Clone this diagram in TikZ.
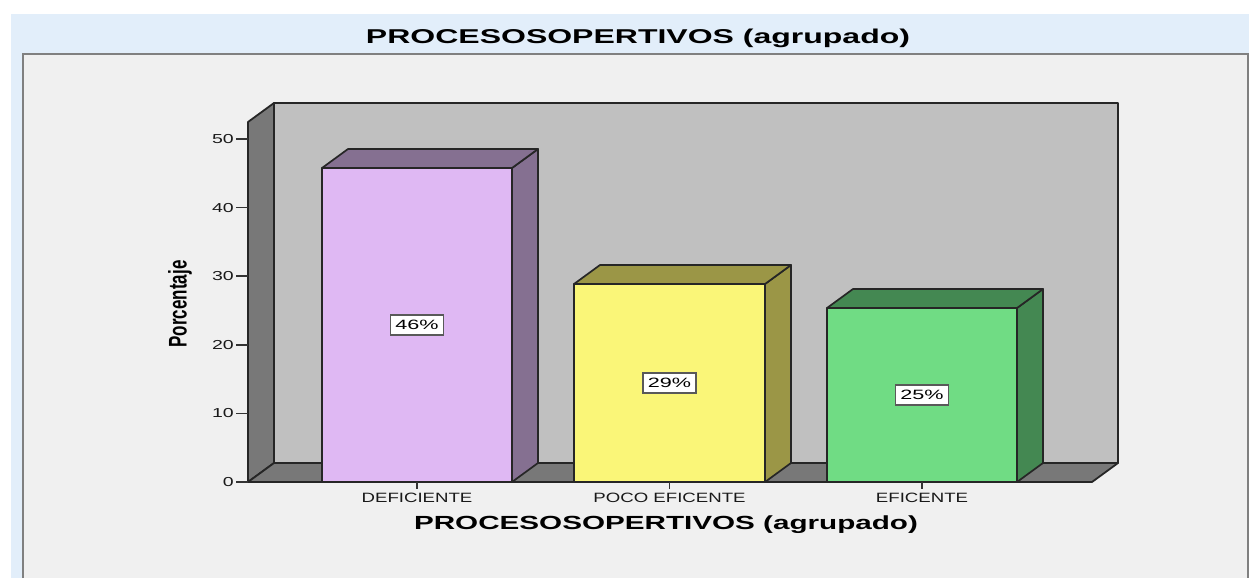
\documentclass[tikz,border=0pt]{standalone}
\usepackage{fontspec}
\setmainfont{Liberation Sans}
\usepackage{tikz}
\definecolor{headblue}{HTML}{E2EEFA}
\definecolor{panelgray}{HTML}{F0F0F0}
\definecolor{backwall}{HTML}{C0C0C0}
\definecolor{sidewall}{HTML}{787878}
\definecolor{lilac}{HTML}{DFB8F3}
\definecolor{lilacdark}{HTML}{857091}
\definecolor{lemon}{HTML}{FAF678}
\definecolor{lemondark}{HTML}{9B9646}
\definecolor{mint}{HTML}{70DC84}
\definecolor{mintdark}{HTML}{448852}

\begin{document}
\begin{tikzpicture}[x=1pt,y=-1pt,
    wall/.style={draw=black!85,line width=1.8pt,line join=round},
    barline/.style={draw=black!85,line width=1.7pt,line join=round},
    tick/.style={draw=black!80,line width=1.5pt},
    pct/.style={draw=black!65,fill=white,line width=1.3pt,minimum width=53,minimum height=20,inner sep=1pt,
                font=\fontsize{13.5}{15}\selectfont},
    cat/.style={font=\fontsize{13.5}{16}\selectfont,text=black!90},
    ytick/.style={anchor=east,inner sep=1pt,font=\fontsize{13}{15}\selectfont,text=black!90}]
    \useasboundingbox (0,0) rectangle (1249,578);

    % frame
    \fill[white] (0,0) rectangle (1249,578);
    \fill[headblue] (11,14) rectangle (1249,578);
    \fill[panelgray] (23,54) rectangle (1248,578);
    \draw[gray,line width=1.5pt] (23,578) -- (23,54) -- (1248,54) -- (1248,578);

    \node (titulo) at (638,38) {\fontsize{20}{24}\selectfont\bfseries\scalebox{1.6}[1]{PROCESOSOPERTIVOS (agrupado)}};

    % walls and floor
    \filldraw[wall,fill=backwall] (274,103) rectangle (1118,463);
    \filldraw[wall,fill=sidewall] (248,482) -- (248,122) -- (274,103) -- (274,463) -- cycle;
    \filldraw[wall,fill=sidewall] (248,482) -- (274,463) -- (1118,463) -- (1092,482) -- cycle;

    % bar DEFICIENTE
    \filldraw[barline,fill=lilac] (322,482) rectangle (512,168);
    \filldraw[barline,fill=lilacdark] (512,482) -- (512,168) -- (538,149) -- (538,463) -- cycle;
    \filldraw[barline,fill=lilacdark] (322,168) -- (348,149) -- (538,149) -- (512,168) -- cycle;
    % bar POCO EFICENTE
    \filldraw[barline,fill=lemon] (574,482) rectangle (765,284);
    \filldraw[barline,fill=lemondark] (765,482) -- (765,284) -- (791,265) -- (791,463) -- cycle;
    \filldraw[barline,fill=lemondark] (574,284) -- (600,265) -- (791,265) -- (765,284) -- cycle;
    % bar EFICENTE
    \filldraw[barline,fill=mint] (827,482) rectangle (1017,308);
    \filldraw[barline,fill=mintdark] (1017,482) -- (1017,308) -- (1043,289) -- (1043,463) -- cycle;
    \filldraw[barline,fill=mintdark] (827,308) -- (853,289) -- (1043,289) -- (1017,308) -- cycle;

    \node[pct] (pct1) at (417,325) {\scalebox{1.6}[1]{46\%}};
    \node[pct] (pct2) at (669.5,383) {\scalebox{1.6}[1]{29\%}};
    \node[pct] (pct3) at (922,395) {\scalebox{1.6}[1]{25\%}};

    % y axis
    \draw[tick] (236,482) -- (248,482);
    \draw[tick] (236,413.4) -- (248,413.4);
    \draw[tick] (236,344.8) -- (248,344.8);
    \draw[tick] (236,276.2) -- (248,276.2);
    \draw[tick] (236,207.6) -- (248,207.6);
    \draw[tick] (236,139) -- (248,139);
    \node[ytick] (y0) at (235,482) {\scalebox{1.5}[1]{0}};
    \node[ytick] (y10) at (235,413.4) {\scalebox{1.5}[1]{10}};
    \node[ytick] (y20) at (235,344.8) {\scalebox{1.5}[1]{20}};
    \node[ytick] (y30) at (235,276.2) {\scalebox{1.5}[1]{30}};
    \node[ytick] (y40) at (235,207.6) {\scalebox{1.5}[1]{40}};
    \node[ytick] (y50) at (235,139) {\scalebox{1.5}[1]{50}};
    \node (ejey) at (180,304) {\fontsize{17}{20}\selectfont\bfseries\scalebox{1.5}[1]{\rotatebox{90}{Porcentaje}}};

    % x axis
    \draw[tick] (417,482) -- (417,489);
    \draw[tick] (669.5,482) -- (669.5,489);
    \draw[tick] (922,482) -- (922,489);
    \node[cat] (cat1) at (417,498) {\scalebox{1.38}[1]{DEFICIENTE}};
    \node[cat] (cat2) at (669.5,498) {\scalebox{1.38}[1]{POCO EFICENTE}};
    \node[cat] (cat3) at (922,498) {\scalebox{1.38}[1]{EFICENTE}};
    \node (ejex) at (666,525) {\fontsize{19}{22}\selectfont\bfseries\scalebox{1.56}[1]{PROCESOSOPERTIVOS (agrupado)}};

   \end{tikzpicture}
\end{document}
